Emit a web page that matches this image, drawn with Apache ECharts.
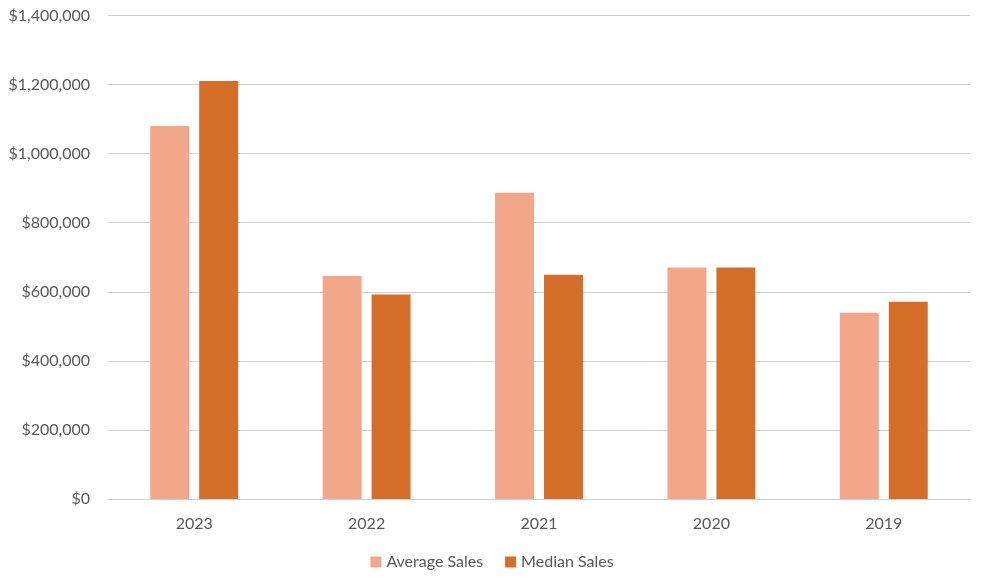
<!DOCTYPE html>
<html>
<head>
<meta charset="utf-8">
<script src="https://cdn.jsdelivr.net/npm/echarts@6/dist/echarts.min.js"></script>
<style>html,body{margin:0;padding:0;background:#fff;}#chart{width:984px;height:583px;}</style>
</head>
<body>
<div id="chart"></div>
<script>
const categories = ['2023', '2022', '2021', '2020', '2019'];
const averageSales = [1080000, 646000, 887000, 670000, 539000];
const medianSales = [1210000, 592000, 649000, 670000, 571000];
const seriesNames = ['Average Sales', 'Median Sales'];

const font = 'Lato, "Open Sans", sans-serif';
const chart = echarts.init(document.getElementById('chart'));
chart.setOption({
  animation: false,
  textStyle: { fontFamily: font },
  grid: { left: 108, right: 14, top: 15.5, bottom: 84, containLabel: false },
  legend: {
    bottom: 8, left: 'center',
    itemWidth: 11, itemHeight: 11, itemGap: 22,
    icon: 'rect',
    textStyle: { fontFamily: font, fontSize: 16, color: '#595959' },
    data: seriesNames
  },
  xAxis: {
    type: 'category', data: categories,
    axisLine: { show: true, lineStyle: { color: '#d0d0d0' } },
    axisTick: { show: false },
    axisLabel: { fontFamily: font, fontSize: 16, color: '#595959', margin: 17 }
  },
  yAxis: {
    type: 'value', min: 0, max: 1400000, interval: 200000,
    axisLine: { show: false }, axisTick: { show: false },
    splitLine: { lineStyle: { color: '#d0d0d0', width: 1 } },
    axisLabel: {
      fontFamily: font, fontSize: 16, color: '#595959', margin: 18,
      formatter: v => '$' + v.toLocaleString('en-US')
    }
  },
  series: [
    { name: seriesNames[0], type: 'bar', data: averageSales, barWidth: '22.6%', barGap: '25.6%',
      itemStyle: { color: '#F1A788' } },
    { name: seriesNames[1], type: 'bar', data: medianSales, barWidth: '22.6%', barGap: '25.6%',
      itemStyle: { color: '#D46E29' } }
  ]
});
</script>
</body>
</html>
